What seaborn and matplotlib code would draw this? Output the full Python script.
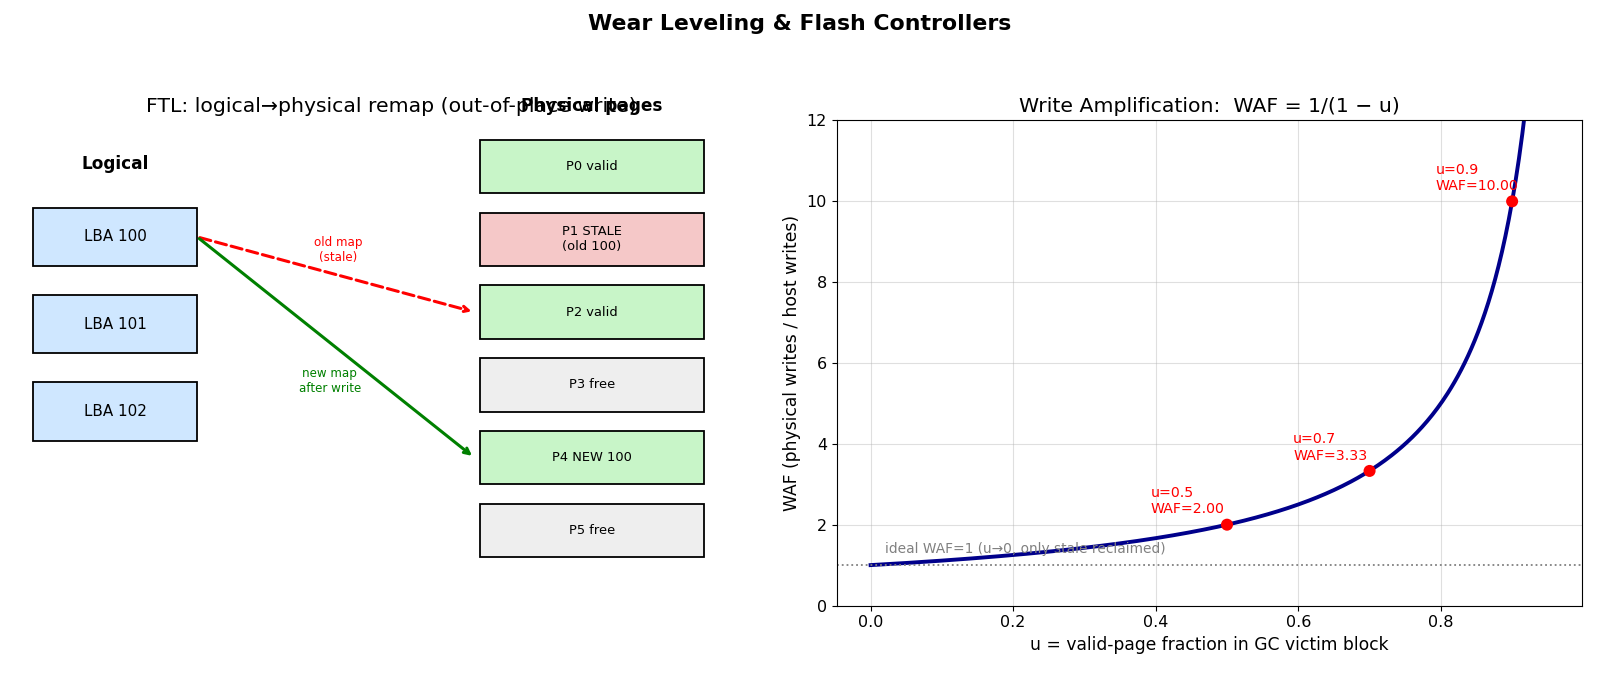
import numpy as np
import pandas as pd
import matplotlib
matplotlib.use("Agg")
import matplotlib.pyplot as plt
import seaborn as sns
from matplotlib.patches import Rectangle

# ---------------- data ----------------
lba_labels = ["LBA 100", "LBA 101", "LBA 102"]
lba_y = [7.0, 5.2, 3.4]
page_labels = ["P0 valid", "P1 STALE\n(old 100)", "P2 valid", "P3 free", "P4 NEW 100", "P5 free"]
page_state = ["valid", "stale", "valid", "free", "valid", "free"]
page_y = [8.5, 7.0, 5.5, 4.0, 2.5, 1.0]
state_colors = {"valid": "#c8f5c8", "stale": "#f5c8c8", "free": "#eeeeee"}

mark_u = [0.5, 0.7, 0.9]
mark_waf = [2.00, 3.33, 10.00]
u_max = 0.95

plt.rcdefaults()
plt.rcParams["font.family"] = ["DejaVu Sans"]

fig = plt.figure(figsize=(16, 6.77), dpi=100)
fig.suptitle("Wear Leveling & Flash Controllers", fontsize=15.8, fontweight="bold", y=0.98)

W, H = 1568, 663  # layout measured on the 1568x663 view
def ax_rect(x0, y0, x1, y1):
    return [x0 / W, 1 - y1 / H, (x1 - x0) / W, (y1 - y0) / H]

# ---------------- left panel: FTL diagram ----------------
axL = fig.add_axes(ax_rect(18, 118, 748, 593))
axL.set_xlim(0, 10)
axL.set_ylim(0, 10)
axL.axis("off")
axL.set_title("FTL: logical\u2192physical remap (out-of-place write)", fontsize=14.7)

lba_x, lba_w, lba_h = 0.2, 2.2, 1.2
for lab, y in zip(lba_labels, lba_y):
    axL.add_patch(Rectangle((lba_x, y), lba_w, lba_h, facecolor="#cfe7ff", edgecolor="black", lw=1.3))
    axL.text(lba_x + lba_w / 2, y + lba_h / 2, lab, ha="center", va="center", fontsize=10.9)
axL.text(lba_x + lba_w / 2, 9.1, "Logical", ha="center", va="center", fontsize=12.2, fontweight="bold")

pg_x, pg_w, pg_h = 6.2, 3.0, 1.1
for lab, st, y in zip(page_labels, page_state, page_y):
    axL.add_patch(Rectangle((pg_x, y), pg_w, pg_h, facecolor=state_colors[st], edgecolor="black", lw=1.3))
    axL.text(pg_x + pg_w / 2, y + pg_h / 2, lab, ha="center", va="center", fontsize=9.4)
axL.text(pg_x + pg_w / 2, 10.3, "Physical pages", ha="center", va="center", fontsize=12.2,
         fontweight="bold", clip_on=False)

src = (lba_x + lba_w, lba_y[0] + 0.6)
axL.annotate("", xy=(pg_x - 0.08, page_y[2] + pg_h / 2), xytext=src,
             arrowprops=dict(arrowstyle="->", color="red", lw=2.2, linestyle="--"))
axL.annotate("", xy=(pg_x - 0.08, page_y[4] + pg_h / 2), xytext=src,
             arrowprops=dict(arrowstyle="->", color="green", lw=2.2))
axL.text(4.29, 7.33, "old map\n(stale)", color="red", fontsize=8.6, ha="center", va="center")
axL.text(4.18, 4.63, "new map\nafter write", color="green", fontsize=8.6, ha="center", va="center")

# ---------------- right panel: WAF curve ----------------
axR = fig.add_axes(ax_rect(820, 118, 1550, 593))
u = np.linspace(0, u_max, 400)
df = pd.DataFrame({"u": u, "WAF": 1 / (1 - u)})
sns.lineplot(data=df, x="u", y="WAF", ax=axR, color="darkblue", lw=2.8)
axR.axhline(1, color="gray", ls=":", lw=1.3)
axR.text(0.02, 1.22, "ideal WAF=1 (u\u21920, only stale reclaimed)", color="gray", fontsize=9.9,
         va="bottom", ha="left")
sns.scatterplot(x=mark_u, y=mark_waf, ax=axR, color="red", s=75, edgecolor="none", zorder=5)
for uu, ww in zip(mark_u, mark_waf):
    axR.annotate(f"u={uu}\nWAF={ww:.2f}", xy=(uu, ww), xytext=(-55, 6), textcoords="offset points",
                 ha="left", va="bottom", color="red", fontsize=10.2)
axR.set_ylim(0, 12)
axR.set_title("Write Amplification:  WAF = 1/(1 \u2212 u)", fontsize=14.7)
axR.set_xlabel("u = valid-page fraction in GC victim block", fontsize=12.3)
axR.set_ylabel("WAF (physical writes / host writes)", fontsize=12.3)
axR.grid(True, alpha=0.4)
axR.tick_params(axis="both", labelsize=11.5)

fig.savefig("out.png", dpi=100)
